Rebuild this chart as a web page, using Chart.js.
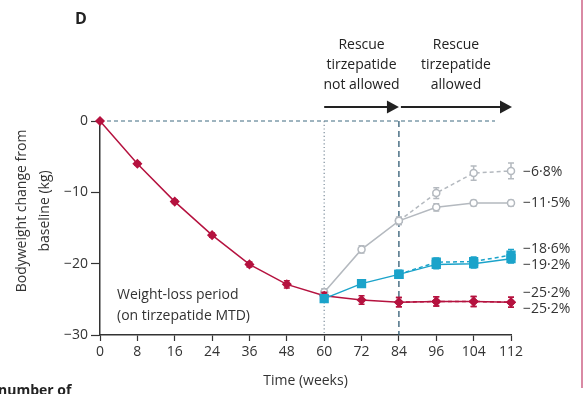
<!DOCTYPE html>
<html>
<head>
<meta charset="utf-8">
<script src="https://cdn.jsdelivr.net/npm/chart.js@4/dist/chart.umd.min.js"></script>
<style>
  html,body{margin:0;padding:0;background:#fff;}
  #wrap{position:relative;width:586px;height:394px;overflow:hidden;}
  #frame{position:absolute;left:581px;top:0;width:2px;height:388px;background:#d98aa4;}
  #nof{position:absolute;left:-2px;top:380px;font:bold 14px "Open Sans",sans-serif;color:#222;}
</style>
</head>
<body>
<div id="wrap">
<canvas id="c" width="586" height="394"></canvas>
<div id="frame"></div>
<div id="nof">number of</div>
</div>
<script>
// ---- data ----
const weeks = ['0','8','16','24','36','48','60','72','84','96','104','112'];
const yTicks = [0, -10, -20, -30];

const redMain   = [0, -6.0, -11.3, -16.0, -20.1, -22.9, -24.5, -25.1, -25.4, -25.3, -25.3, -25.4];
const redMainErr= [0, 0.2, 0.25, 0.3, 0.35, 0.5, 0.5, 0.6, 0.65, 0.65, 0.7, 0.7];
const redDash   = [null,null,null,null,null,null,null,null, -25.4, -25.3, -25.3, -25.4];
const redDashErr= [0,0,0,0,0,0,0,0, 0.65, 0.65, 0.7, 0.7];

const blueSolid = [null,null,null,null,null,null, -24.9, -22.8, -21.5, -20.1, -20.0, -19.3];
const blueSolidErr=[0,0,0,0,0,0, 0.5, 0.5, 0.55, 0.6, 0.6, 0.6];
const blueDash  = [null,null,null,null,null,null,null,null, -21.5, -19.8, -19.7, -18.8];
const blueDashErr=[0,0,0,0,0,0,0,0, 0.55, 0.6, 0.65, 0.8];

const graySolid = [null,null,null,null,null,null, -24.0, -18.0, -14.0, -12.1, -11.5, -11.5];
const graySolidErr=[0,0,0,0,0,0, 0.5, 0.5, 0.5, 0.5, 0.4, 0.4];
const grayDash  = [null,null,null,null,null,null,null,null, -14.0, -10.1, -7.3, -7.0];
const grayDashErr=[0,0,0,0,0,0,0,0, 0.5, 0.75, 1.0, 1.1];

const endLabels = ['−6·8%', '−11·5%', '−18·6%', '−19·2%', '−25·2%', '−25·2%'];
const endLabelKg = [-7.1, -11.45, -17.95, -20.2, -24.1, -26.4];

const RED = '#b5123f', BLUE = '#1ba3ca', GRAY = '#b4b9bf';
const FONT = '"Open Sans", sans-serif';

function ds(data, err, color, style, dashed, order, radius, fill) {
  return {
    data, err, borderColor: color, backgroundColor: fill || color,
    pointBackgroundColor: fill || color, pointBorderColor: color,
    pointStyle: style, pointRadius: radius, pointBorderWidth: 1.5,
    borderWidth: 1.5, borderDash: dashed ? [4, 3] : [],
    tension: 0, order, clip: false, spanGaps: false
  };
}

const errorBars = {
  id: 'errorBars',
  beforeDatasetDraw(chart, args) {
    const d = chart.data.datasets[args.index];
    const meta = args.meta; const y = chart.scales.y;
    const ctx = chart.ctx;
    ctx.save();
    ctx.strokeStyle = d.borderColor; ctx.lineWidth = 1.5; ctx.setLineDash([]);
    d.data.forEach((v, i) => {
      const e = d.err[i];
      if (v === null || !e) return;
      const x = meta.data[i].x;
      const y1 = y.getPixelForValue(v + e), y2 = y.getPixelForValue(v - e);
      ctx.beginPath();
      ctx.moveTo(x, y1); ctx.lineTo(x, y2);
      ctx.moveTo(x - 3, y1); ctx.lineTo(x + 3, y1);
      ctx.moveTo(x - 3, y2); ctx.lineTo(x + 3, y2);
      ctx.stroke();
    });
    ctx.restore();
  }
};

const deco = {
  id: 'deco',
  beforeDatasetsDraw(chart) {
    const ctx = chart.ctx, x = chart.scales.x, y = chart.scales.y, a = chart.chartArea;
    ctx.save();
    // zero dashed line
    ctx.strokeStyle = '#3f6a80'; ctx.lineWidth = 1; ctx.setLineDash([4, 3]);
    ctx.beginPath(); ctx.moveTo(a.left, y.getPixelForValue(0)); ctx.lineTo(a.right - 16, y.getPixelForValue(0)); ctx.stroke();
    // dotted at week 60
    const x60 = x.getPixelForValue(6), x84 = x.getPixelForValue(8), x112 = x.getPixelForValue(11);
    ctx.strokeStyle = '#7d8e9c'; ctx.setLineDash([1.2, 2.5]); ctx.lineWidth = 1.2;
    ctx.beginPath(); ctx.moveTo(x60, y.getPixelForValue(0)); ctx.lineTo(x60, a.bottom); ctx.stroke();
    // dashed at week 84
    ctx.strokeStyle = '#2f5a72'; ctx.setLineDash([6, 4]); ctx.lineWidth = 1.3;
    ctx.beginPath(); ctx.moveTo(x84, y.getPixelForValue(0)); ctx.lineTo(x84, a.bottom); ctx.stroke();
    ctx.restore();
  },
  afterDraw(chart) {
    const ctx = chart.ctx, x = chart.scales.x, y = chart.scales.y, a = chart.chartArea;
    const x60 = x.getPixelForValue(6), x84 = x.getPixelForValue(8), x112 = x.getPixelForValue(11);
    ctx.save();
    // arrows
    const ay = a.top - 14;
    function arrow(x1, x2) {
      ctx.strokeStyle = '#222'; ctx.fillStyle = '#222'; ctx.lineWidth = 2; ctx.setLineDash([]);
      ctx.beginPath(); ctx.moveTo(x1, ay); ctx.lineTo(x2 - 10, ay); ctx.stroke();
      ctx.beginPath(); ctx.moveTo(x2, ay); ctx.lineTo(x2 - 12, ay - 6.5); ctx.lineTo(x2 - 12, ay + 6.5); ctx.closePath(); ctx.fill();
    }
    arrow(x60, x84);
    arrow(x84 + 2, x112 + 1);
    ctx.fillStyle = '#222'; ctx.font = '14px ' + FONT; ctx.textAlign = 'center'; ctx.textBaseline = 'middle';
    const cx1 = (x60 + x84) / 2, cx2 = (x84 + x112) / 2 + 1;
    ['Rescue', 'tirzepatide', 'not allowed'].forEach((t, i) => ctx.fillText(t, cx1, 45 + i * 20));
    ['Rescue', 'tirzepatide', 'allowed'].forEach((t, i) => ctx.fillText(t, cx2, 45 + i * 20));
    // D
    ctx.font = 'bold 16px ' + FONT; ctx.fillText('D', 81, 19);
    // x title
    ctx.font = '14px ' + FONT; ctx.fillStyle = '#333';
    ctx.fillText('Time (weeks)', (a.left + a.right) / 2, 381);
    // y title
    ctx.save();
    ctx.translate(22, 211); ctx.rotate(-Math.PI / 2);
    ctx.fillText('Bodyweight change from', 0, 0);
    ctx.fillText('baseline (kg)', 0, 23);
    ctx.restore();
    // weight-loss period
    ctx.textAlign = 'left'; ctx.fillStyle = '#333';
    ctx.fillText('Weight-loss period', 117, 295);
    ctx.fillText('(on tirzepatide MTD)', 117, 316);
    // end labels
    endLabels.forEach((t, i) => ctx.fillText(t, x112 + 12, y.getPixelForValue(endLabelKg[i])));
    ctx.restore();
  }
};

new Chart(document.getElementById('c'), {
  type: 'line',
  data: {
    labels: weeks,
    datasets: [
      ds(graySolid, graySolidErr, GRAY, 'circle', false, 5, 3.5, '#fff'),
      ds(grayDash, grayDashErr, GRAY, 'circle', true, 4, 3.5, '#fff'),
      ds(redDash, redDashErr, RED, 'rectRot', true, 3, 4),
      ds(redMain, redMainErr, RED, 'rectRot', false, 2, 4),
      ds(blueDash, blueDashErr, BLUE, 'rect', true, 1, 5.5),
      ds(blueSolid, blueSolidErr, BLUE, 'rect', false, 0, 5.5)
    ]
  },
  options: {
    responsive: false, animation: false, events: [],
    layout: { padding: { top: 121, right: 75, left: 0, bottom: 0 } },
    plugins: { legend: { display: false }, tooltip: { enabled: false } },
    scales: {
      x: {
        type: 'category', offset: false,
        afterFit(s) { s.height = 59; },
        grid: { drawOnChartArea: false, drawTicks: true, tickLength: 6, color: '#333', tickWidth: 1.2 },
        border: { display: true, color: '#333', width: 1.5 },
        ticks: { autoSkip: false, maxRotation: 0, padding: 3, color: '#333', font: { family: FONT, size: 14 } }
      },
      y: {
        min: -30, max: 0,
        afterFit(s) { s.width = 100; },
        afterBuildTicks(s) { s.ticks = yTicks.map(v => ({ value: v })); },
        grid: { drawOnChartArea: false, drawTicks: true, tickLength: 9, color: '#333', tickWidth: 1.2 },
        border: { display: true, color: '#333', width: 1.5 },
        ticks: {
          padding: 3, color: '#333', font: { family: FONT, size: 14 },
          callback: v => v < 0 ? '−' + Math.abs(v) : String(v)
        }
      }
    }
  },
  plugins: [errorBars, deco]
});
</script>
</body>
</html>
